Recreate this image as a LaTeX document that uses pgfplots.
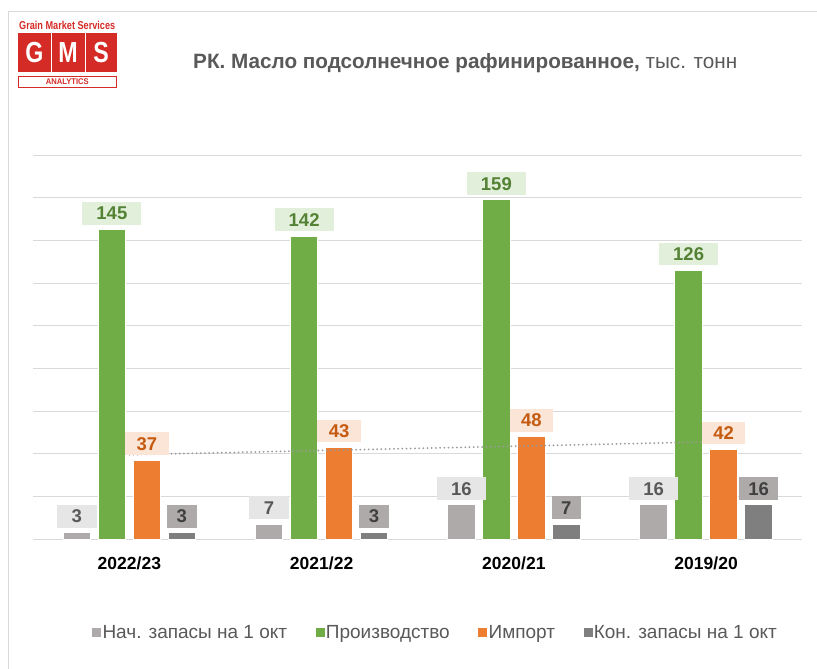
\documentclass[border=0pt]{standalone}
\usepackage{fontspec}
\setmainfont{Liberation Sans}
\usepackage{graphicx}
\usepackage{pgfplots}
\pgfplotsset{compat=1.18}
\definecolor{greybar}{HTML}{AEAAAA}
\definecolor{greenbar}{HTML}{70AD47}
\definecolor{orangebar}{HTML}{ED7D31}
\definecolor{darkbar}{HTML}{7F7F7F}
\definecolor{greylabfill}{HTML}{E7E6E6}
\definecolor{greylabtext}{HTML}{595959}
\definecolor{greenlabfill}{HTML}{E2EFDA}
\definecolor{greenlabtext}{HTML}{548235}
\definecolor{orangelabfill}{HTML}{FBE5D6}
\definecolor{orangelabtext}{HTML}{C55A11}
\definecolor{darklabfill}{HTML}{AEAAAA}
\definecolor{darklabtext}{HTML}{404040}
\definecolor{gridgrey}{HTML}{D9D9D9}
\definecolor{textgrey}{HTML}{595959}
\definecolor{trendgrey}{HTML}{9A9A9A}
\definecolor{logored}{HTML}{D52B26}
\newcommand{\labfont}{\fontsize{18.5}{20}\selectfont\bfseries}
\tikzset{lab/.style={font=\labfont, text height=13.3pt, text depth=0pt, inner ysep=4.7pt, anchor=south, yshift=5pt, outer sep=0pt}}
\begin{document}
\begin{tikzpicture}[x=1pt,y=1pt]
\useasboundingbox (0,0) rectangle (817,-669);
\fill[white] (0,0) rectangle (817,-669);
\draw[gridgrey, line width=1pt] (8,-669) -- (8,-12) -- (817,-12);
% logo
\node[anchor=south west, inner sep=0pt, text=logored] at (19,-30) {\resizebox{96pt}{8.3pt}{\bfseries Grain Market Services}};
\fill[logored] (17.7,-33.3) rectangle (117,-72.3);
\draw[white, line width=1pt] (51,-33.3) -- (51,-72.3);
\draw[white, line width=1pt] (85,-33.3) -- (85,-72.3);
\foreach \cx/\l in {34.3/G, 68/M, 101/S}
  \node[anchor=base, inner sep=0pt, text=white] at (\cx,-63) {\scalebox{0.8}[1]{\fontsize{29}{30}\selectfont\bfseries \l}};
\draw[logored, line width=1pt] (18.2,-76.5) rectangle (116.5,-87.5);
\node[anchor=south, inner sep=0pt, text=logored] at (67.3,-85) {\resizebox{43pt}{5.8pt}{\bfseries ANALYTICS}};
% title
\node[anchor=base west, inner sep=0pt, text=textgrey] at (193,-68.5) {\fontsize{20.7}{23}\selectfont{\bfseries РК. Масло подсолнечное рафинированное,} тыс. тонн};
\begin{axis}[
  at={(33.25pt,-539pt)}, anchor=south west,
  scale only axis, width=769pt, height=384pt,
  xmin=-0.5, xmax=3.5, ymin=0, ymax=180,
  ytick={0,20,...,180}, yticklabels={},
  ymajorgrids, grid style={gridgrey, line width=1pt},
  xtick={0,1,2,3}, xticklabels={2022/23,2021/22,2020/21,2019/20},
  axis line style={draw=none}, major tick length=0pt,
  xticklabel style={font=\fontsize{17.5}{20}\selectfont\bfseries, text=black, text height=12.6pt, text depth=0pt, inner ysep=0pt, anchor=north},
  xticklabel shift=17.7pt,
  /pgf/number format/assume math mode=true,
  clip=false,
  legend style={at={(axis description cs:0.0764,-0.2448)}, anchor=west, draw=none, fill=none,
    legend columns=4, font=\fontsize{19}{21}\selectfont, text=textgrey, inner sep=0pt,
    nodes={inner xsep=1.5pt},
    /tikz/every even column/.append style={column sep=27pt}},
]
\addplot[ybar, bar width=27.5pt, bar shift=-52.5pt, fill=greybar, draw=white, line width=0.8pt,
  nodes near coords, nodes near coords style={lab, xshift=-52.5pt, fill=greylabfill, text=greylabtext, inner xsep=14.5pt},
  legend image code/.code={\fill[greybar] (0pt,-3pt) rectangle (8pt,5pt);}]
  coordinates {(0,3) (1,7) (2,16) (3,16)};
\addlegendentry{Нач. запасы на 1 окт}
\addplot[ybar, bar width=27.5pt, bar shift=-17.5pt, fill=greenbar, draw=white, line width=0.8pt,
  nodes near coords, nodes near coords style={lab, xshift=-17.5pt, fill=greenlabfill, text=greenlabtext, inner xsep=14pt},
  legend image code/.code={\fill[greenbar] (0pt,-3pt) rectangle (8pt,5pt);}]
  coordinates {(0,145) (1,142) (2,159) (3,126)};
\addlegendentry{Производство}
\addplot[ybar, bar width=27.5pt, bar shift=17.5pt, fill=orangebar, draw=white, line width=0.8pt,
  nodes near coords, nodes near coords style={lab, xshift=17.5pt, fill=orangelabfill, text=orangelabtext, inner xsep=11.5pt},
  legend image code/.code={\fill[orangebar] (0pt,-3pt) rectangle (8pt,5pt);}]
  coordinates {(0,37) (1,43) (2,48) (3,42)};
\addlegendentry{Импорт}
\addplot[ybar, bar width=27.5pt, bar shift=52.5pt, fill=darkbar, draw=white, line width=0.8pt,
  nodes near coords, nodes near coords style={lab, xshift=52.5pt, fill=darklabfill, text=darklabtext, inner xsep=9.5pt},
  legend image code/.code={\fill[darkbar] (0pt,-3pt) rectangle (8pt,5pt);}]
  coordinates {(0,3) (1,3) (2,7) (3,16)};
\addlegendentry{Кон. запасы на 1 окт}
\addplot[sharp plot, forget plot, trendgrey, line width=2pt, line cap=round, dash pattern=on 0pt off 4.2pt]
  coordinates {(0,39.5) (3,45.5)};
\end{axis}
\end{tikzpicture}
\end{document}
